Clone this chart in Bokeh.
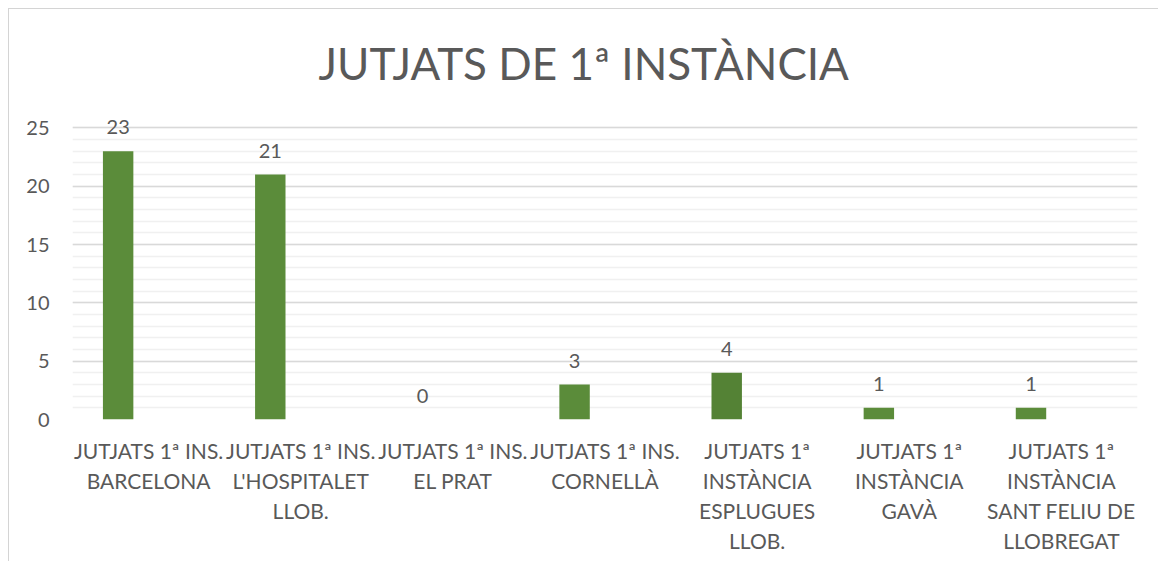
from bokeh.plotting import figure
from bokeh.models import ColumnDataSource, FactorRange, Range1d, FixedTicker, Title
from bokeh.transform import dodge
from bokeh.embed import file_html
from bokeh.resources import INLINE
from bokeh.core.properties import value

# ---- data ----
categories = [
    "JUTJATS 1ª INS.\nBARCELONA",
    "JUTJATS 1ª INS.\nL'HOSPITALET\nLLOB.",
    "JUTJATS 1ª INS.\nEL PRAT",
    "JUTJATS 1ª INS.\nCORNELLÀ",
    "JUTJATS 1ª\nINSTÀNCIA\nESPLUGUES\nLLOB.",
    "JUTJATS 1ª\nINSTÀNCIA\nGAVÀ",
    "JUTJATS 1ª\nINSTÀNCIA\nSANT FELIU DE\nLLOBREGAT",
]
values = [23, 21, 0, 3, 4, 1, 1]
bar_colors = ["#5b8c3a", "#5b8c3a", "#5b8c3a", "#5b8c3a", "#548235", "#5b8c3a", "#5b8c3a"]
title_text = "JUTJATS DE 1ª INSTÀNCIA"
y_major = [0, 5, 10, 15, 20, 25]
y_minor = list(range(0, 26))

FONT = "Lato"
TXT = "#595959"

src = ColumnDataSource(dict(cat=categories, val=values, color=bar_colors,
                            label=[str(v) for v in values]))

p = figure(x_range=FactorRange(*categories, range_padding=0),
           y_range=Range1d(0, 27),
           width=1150, height=553,
           output_backend="svg", toolbar_location=None,
           min_border_left=63, min_border_right=22,
           min_border_top=95, min_border_bottom=143,
           styles={"margin-left": "8px", "margin-top": "8px",
                   "border-top": "1px solid #d4d4d4", "border-left": "1px solid #d4d4d4"})
p.outline_line_color = None

p.title = Title(text=title_text, align="left", text_font=FONT,
                text_font_size="44px", text_font_style="normal",
                text_color=TXT, standoff=32, offset=246)

p.vbar(x=dodge("cat", -0.2, range=p.x_range), top="val", width=0.2,
       fill_color="color", line_color=None, source=src)
p.text(x=dodge("cat", -0.2, range=p.x_range), y="val", text="label", source=src,
       text_align="center", text_baseline="middle", y_offset=-24,
       text_font=value(FONT), text_font_size="20px", text_color=TXT)

# y axis
p.yaxis.ticker = FixedTicker(ticks=y_major, minor_ticks=y_minor)
p.yaxis.axis_line_color = None
p.yaxis.major_tick_line_color = None
p.yaxis.minor_tick_line_color = None
p.yaxis.major_label_standoff = 17
p.yaxis.major_label_text_font = FONT
p.yaxis.major_label_text_font_size = "20px"
p.yaxis.major_label_text_color = TXT

# x axis
p.xaxis.axis_line_color = None
p.xaxis.major_tick_line_color = None
p.xaxis.major_label_standoff = 12
p.xaxis.major_label_text_font = FONT
p.xaxis.major_label_text_font_size = "21px"
p.xaxis.major_label_text_color = TXT
p.xaxis.major_label_text_line_height = 1.2
p.xaxis.major_label_orientation = "horizontal"

# grids
p.xgrid.grid_line_color = None
p.ygrid.grid_line_color = "#d9d9d9"
p.ygrid.grid_line_width = 1.5
p.ygrid.minor_grid_line_color = "#f0f0f0"
p.ygrid.minor_grid_line_width = 1.5

open("out.html", "w").write(file_html(p, INLINE))
